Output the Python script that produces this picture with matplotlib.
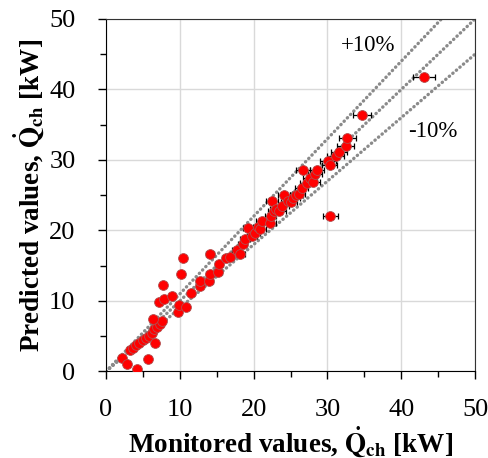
import numpy as np
import matplotlib
matplotlib.use("Agg")
import matplotlib.pyplot as plt
from matplotlib.ticker import MultipleLocator

plt.rcParams['font.family'] = ['Liberation Serif', 'DejaVu Serif']
plt.rcParams['mathtext.fontset'] = 'stix'

# monitored vs predicted chiller capacity [kW]
monitored = [2.1, 2.9, 4.2, 5.7, 3.3, 3.6, 4.0, 4.5, 5.0, 5.4, 5.8, 6.2, 6.7, 6.5, 6.9,
             7.3, 7.6, 6.3, 7.2, 7.9, 8.9, 7.7, 9.7, 9.9, 10.8, 10.2, 10.4, 11.5, 12.7,
             12.7, 14.0, 14.1, 14.1, 15.2, 15.3, 16.3, 16.8, 17.7, 18.2, 18.5, 18.8,
             19.2, 19.8, 20.2, 20.6, 20.9, 21.1, 22.2, 22.3, 22.5, 22.8, 23.0, 23.5,
             23.9, 24.1, 24.6, 25.0, 25.4, 25.8, 26.1, 26.5, 26.7, 27.2, 27.6, 28.0,
             28.3, 28.6, 30.1, 30.3, 30.4, 31.1, 31.6, 32.5, 32.7, 34.7, 43.1]
predicted = [1.9, 1.1, 0.4, 1.8, 3.0, 3.4, 3.8, 4.1, 4.5, 4.8, 5.1, 5.5, 4.0, 6.0, 6.3,
             6.7, 7.1, 7.5, 9.9, 10.3, 10.7, 12.3, 8.5, 9.4, 9.1, 13.8, 16.1, 11.1, 12.1,
             12.8, 12.8, 13.8, 16.7, 14.1, 15.3, 16.1, 16.3, 17.2, 16.7, 18.1, 18.8,
             20.4, 19.2, 19.6, 20.5, 20.2, 21.3, 21.1, 22.0, 24.2, 22.7, 23.0, 22.8,
             23.5, 25.0, 24.2, 24.0, 24.6, 25.1, 25.2, 26.0, 28.6, 26.8, 27.5, 26.9,
             28.0, 28.6, 29.8, 29.3, 22.1, 30.5, 31.2, 32.0, 33.1, 36.4, 41.7]
rel_uncertainty = 0.035  # measurement uncertainty on monitored values

x = np.array(monitored)
y = np.array(predicted)

fig = plt.figure(figsize=(4.89, 4.58), dpi=100)
ax = fig.add_axes([0.2168, 0.1889, 0.7546, 0.7697])

# 1:1 and +/-10 % lines
ref = np.array([0, 50])
for k in (1.1, 1.0, 0.9):
    ax.plot(ref, k * ref, color='#8a8a8a', lw=2.4, dashes=(0.1, 1.3),
            dash_capstyle='round', zorder=2)

ax.errorbar(x, y, xerr=rel_uncertainty * x, fmt='none', ecolor='black',
            elinewidth=0.9, capsize=2.5, capthick=0.9, zorder=3)
ax.scatter(x, y, s=50, color='#ff0000', edgecolors='#b05050', linewidths=0.6,
           zorder=4)

ax.text(35.5, 46.2, '+10%', fontsize=16.5, ha='center', va='center')
ax.text(44.3, 34.1, '-10%', fontsize=16.5, ha='center', va='center')

ax.set_xlim(0, 50)
ax.set_ylim(0, 50)
ax.xaxis.set_major_locator(MultipleLocator(10))
ax.yaxis.set_major_locator(MultipleLocator(10))
ax.xaxis.set_minor_locator(MultipleLocator(5))
ax.yaxis.set_minor_locator(MultipleLocator(5))
ax.grid(True, which='major', color='#d9d9d9', lw=1, zorder=0)
ax.set_axisbelow(True)
ax.tick_params(which='major', direction='out', length=6, width=1, labelsize=19)
ax.tick_params(axis='x', which='major', pad=14)
ax.tick_params(axis='y', which='major', pad=16)
ax.tick_params(which='minor', direction='out', length=4, width=1)
for s in ax.spines.values():
    s.set_color('#333333')
ax.spines['left'].set_color('black')
ax.spines['bottom'].set_color('black')

ax.set_xlabel(r'Monitored values, $\mathbf{\dot{Q}_{ch}}$ [kW]', fontsize=19.5,
              fontweight='bold', labelpad=2)
ax.set_ylabel(r'Predicted values, $\mathbf{\dot{Q}_{ch}}$ [kW]', fontsize=19.5,
              fontweight='bold', labelpad=2)

fig.savefig('out.png', dpi=100)
